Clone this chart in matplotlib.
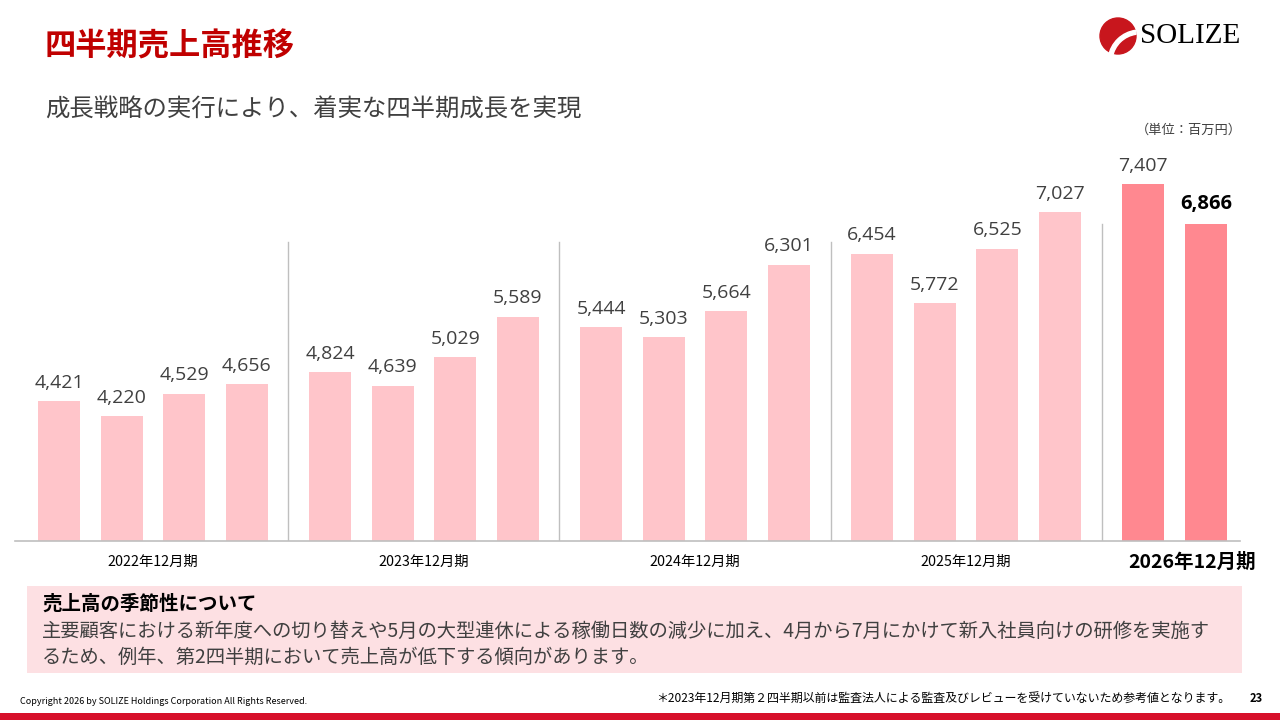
import matplotlib
matplotlib.use("Agg")
from matplotlib import pyplot as plt
from matplotlib.patches import Rectangle, Circle, Wedge
import numpy as np

plt.rcParams['font.family'] = ['Noto Sans CJK JP', 'DejaVu Sans']

# data (百万円)
periods = ['2022年12月期', '2023年12月期', '2024年12月期', '2025年12月期', '2026年12月期']
sales = [
    [4421, 4220, 4529, 4656],
    [4824, 4639, 5029, 5589],
    [5444, 5303, 5664, 6301],
    [6454, 5772, 6525, 7027],
    [7407, 6866],
]

light = '#FFC5CA'
dark = '#FF8890'
gray_txt = '#404040'

W, H = 1280, 720
fig = plt.figure(figsize=(12.8, 7.2), dpi=100)

# overlay axes in pixel coordinates for decorations
bg = fig.add_axes([0, 0, 1, 1])
bg.set_xlim(0, W)
bg.set_ylim(H, 0)
bg.axis('off')

# chart axes: x pixels 15..1240, y pixels 540..140
step = 62.6
gap = 4.33
x0_px = 59
ax_left, ax_right, ax_bot, ax_top = 15, 1240, 540.5, 140
ax = fig.add_axes([ax_left / W, 1 - ax_bot / H, (ax_right - ax_left) / W, (ax_bot - ax_top) / H])
ax.set_xlim((ax_left - x0_px) / step, (ax_right - x0_px) / step)
ymin = 2508
ymax = ymin + (ax_bot - ax_top) / 0.07267
ax.set_ylim(ymin, ymax)
ax.axis('off')
ax.axhline(ymin, color='#BFBFBF', lw=1.2, clip_on=False)

for g, vals in enumerate(sales):
    pos = g * gap + np.arange(len(vals))
    last = g == len(sales) - 1
    ax.bar(pos, np.array(vals) - ymin, bottom=ymin, width=0.67,
           color=dark if last else light)
    for i, (p, v) in enumerate(zip(pos, vals)):
        bold = last and i == 1
        ax.text(p, v + 130, f'{v:,}', ha='center', va='bottom',
                fontsize=14 if not bold else 14.5,
                fontweight='bold' if bold else 'normal',
                color='black' if bold else gray_txt,
                family=['Open Sans', 'DejaVu Sans'])
    # group labels
    center_px = x0_px + (g * gap + (len(vals) - 1) / 2) * step
    if last:
        bg.text(center_px + 18, 562, periods[g], ha='center', va='center',
                fontsize=14, fontweight='bold', color='black')
    else:
        bg.text(center_px, 562, periods[g], ha='center', va='center',
                fontsize=10.3, color='black')
    # separators
    if g > 0:
        sep = (g * gap - (gap - 3) / 2)
        top_y = ymin + (ax_bot - (224 if last else 242)) / 0.07267
        ax.plot([sep, sep], [ymin, top_y], color='#BFBFBF', lw=1)

# title and subtitle
bg.text(45, 47, '四半期売上高推移', fontsize=22.5, fontweight='bold', color='#C00000',
        ha='left', va='center')
bg.text(45, 110, '成長戦略の実行により、着実な四半期成長を実現', fontsize=17.6,
        color=gray_txt, ha='left', va='center')
bg.text(1242, 130, '（単位：百万円）', fontsize=9.5, color=gray_txt, ha='right', va='center')

# logo
bg.add_patch(Circle((1118, 36), 18, color='#C8161D'))
bg.add_patch(Wedge((1140, 62), 32, 190, 262, width=4, color='white'))
bg.text(1140, 36, 'SOLIZE', fontsize=21, family=['Liberation Serif', 'DejaVu Serif'],
        color='black', ha='left', va='center')

# seasonality box
bg.add_patch(Rectangle((27, 586), 1215, 87, color='#FDE0E3', lw=0))
bg.text(42, 604, '売上高の季節性について', fontsize=14, fontweight='bold',
        color='black', ha='left', va='center')
bg.text(42, 631, '主要顧客における新年度への切り替えや5月の大型連休による稼働日数の減少に加え、4月から7月にかけて新入社員向けの研修を実施す',
        fontsize=13.9, color=gray_txt, ha='left', va='center')
bg.text(42, 657, 'るため、例年、第2四半期において売上高が低下する傾向があります。',
        fontsize=13.9, color=gray_txt, ha='left', va='center')

# footer
bg.text(20, 702, 'Copyright 2026 by SOLIZE Holdings Corporation All Rights Reserved.',
        fontsize=6.5, color='black', ha='left', va='center')
bg.text(1230, 699, '＊2023年12月期第２四半期以前は監査法人による監査及びレビューを受けていないため参考値となります。',
        fontsize=8.6, color='black', ha='right', va='center')
bg.text(1256, 699, '23', fontsize=8, fontweight='bold', color='black', ha='center', va='center')
bg.add_patch(Rectangle((0, 713), W, 7, color='#D7102A', lw=0))

fig.savefig('out.png', dpi=100)
